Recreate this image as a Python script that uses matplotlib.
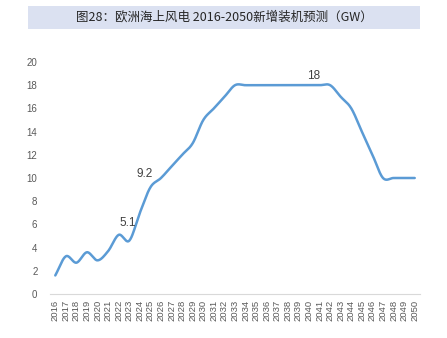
import numpy as np
from matplotlib import pyplot as plt
from matplotlib.patches import Rectangle

# data (yearly new offshore wind installs in Europe, GW)
years = list(range(2016, 2051))
values = [1.6, 3.25, 2.7, 3.6, 2.9, 3.7, 5.1, 4.6, 7.0, 9.2,
          10.0, 11.0, 12.0, 13.0, 15.0, 16.0, 17.0, 18.0, 18.0, 18.0,
          18.0, 18.0, 18.0, 18.0, 18.0, 18.0, 18.0, 17.0, 16.0, 14.0,
          12.0, 10.0, 10.0, 10.0, 10.0]
label_years = [2022, 2025, 2041]
label_texts = ["5.1", "9.2", "18"]
title = "图28：欧洲海上风电 2016-2050新增装机预测（GW）"

LINE = "#5b9bd5"
GRAY = "#595959"
# label offsets in points (moved by hand in the original)
label_offsets = [(6.5, 8.6), (-4.3, 9.4), (-4.3, 6.5)]


def smooth(x, y, n=20):
    # catmull-rom style smoothing, like the excel "smoothed line"
    x = np.asarray(x, float)
    y = np.asarray(y, float)
    px = np.concatenate([[2 * x[0] - x[1]], x, [2 * x[-1] - x[-2]]])
    py = np.concatenate([[2 * y[0] - y[1]], y, [2 * y[-1] - y[-2]]])
    xs, ys = [], []
    t = np.linspace(0, 1, n, endpoint=False)
    for i in range(1, len(px) - 2):
        for arr, out in ((px, xs), (py, ys)):
            p0, p1, p2, p3 = arr[i - 1], arr[i], arr[i + 1], arr[i + 2]
            out.extend(0.5 * ((2 * p1) + (-p0 + p2) * t
                              + (2 * p0 - 5 * p1 + 4 * p2 - p3) * t ** 2
                              + (-p0 + 3 * p1 - 3 * p2 + p3) * t ** 3))
    xs.append(x[-1])
    ys.append(y[-1])
    return np.array(xs), np.array(ys)


fig = plt.figure(figsize=(4.47, 3.38), dpi=100)
ax = fig.add_axes([50 / 447, 44 / 338, 370 / 447, 232 / 338])

sx, sy = smooth(years, values)
ax.plot(sx, sy, color=LINE, linewidth=1.8, solid_capstyle="round")

for yr, txt, off in zip(label_years, label_texts, label_offsets):
    ax.annotate(txt, (yr, values[years.index(yr)]), xytext=off,
                textcoords="offset points", ha="center", va="center",
                fontsize=8.5, color="#404040", family="Liberation Sans")

ax.set_xlim(2015.5, 2050.5)
ax.set_ylim(0, 20)
ax.set_yticks(range(0, 21, 2))
ax.set_xticks(years)
ax.set_xticklabels([str(y) for y in years], rotation=90)
ax.tick_params(axis="both", length=0, colors=GRAY, labelsize=6.8)
ax.tick_params(axis="y", pad=9, labelsize=7)
ax.tick_params(axis="x", pad=4)
for lab in ax.get_xticklabels() + ax.get_yticklabels():
    lab.set_family("Liberation Sans")
for s in ["top", "right", "left"]:
    ax.spines[s].set_visible(False)
ax.spines["bottom"].set_color("#d9d9d9")

# title bar
fig.patches.append(Rectangle((28 / 447, 1 - 29 / 338), 392 / 447, 23 / 338,
                             transform=fig.transFigure, facecolor="#dbe1f1",
                             edgecolor="none"))
fig.text(224 / 447, 1 - 17.5 / 338, title, ha="center", va="center",
         fontsize=9, color="#262626",
         family=["Noto Sans CJK SC", "DejaVu Sans"])

plt.savefig("out.png", dpi=100)
